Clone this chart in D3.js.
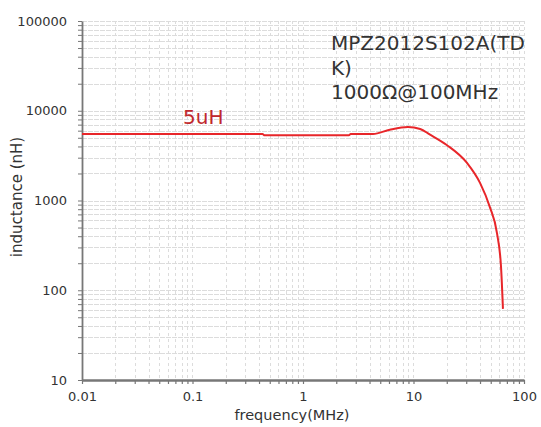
<!DOCTYPE html>
<html>
<head>
<meta charset="utf-8">
<script src="https://cdn.jsdelivr.net/npm/d3@7"></script>
<style>
  html, body { margin: 0; padding: 0; background: #fff; }
  svg { display: block; font-family: "DejaVu Sans", Verdana, sans-serif; }
</style>
</head>
<body>
<svg id="chart" width="541" height="427"></svg>
<script>
// Inductance vs frequency for MPZ2012S102A (TDK)
const freqMHz = [0.01, 0.43, 0.45, 2.6, 2.7, 4.3, 6.1, 8.9, 11.5, 14, 20, 30.5, 40, 49, 57, 62, 64.5];
const inductanceNH = [5510, 5510, 5330, 5330, 5510, 5510, 6150, 6590, 6270, 5450, 4150, 2620, 1570, 850, 430, 180, 62];

const xTickValues = [0.01, 0.1, 1, 10, 100];
const xTickLabels = ["0.01", "0.1", "1", "10", "100"];
const yTickValues = [10, 100, 1000, 10000, 100000];
const yTickLabels = ["10", "100", "1000", "10000", "100000"];

const titleLines = ["MPZ2012S102A(TD", "K)", "1000Ω@100MHz"];
const seriesLabel = "5uH";
const xTitle = "frequency(MHz)";
const yTitle = "inductance (nH)";

const svg = d3.select("#chart");
const plotLeft = 82, plotRight = 524, plotTop = 21, plotBottom = 380;

const x = d3.scaleLog().domain([0.01, 100]).range([plotLeft, plotRight]);
const y = d3.scaleLog().domain([10, 100000]).range([plotBottom, plotTop]);

// all 1..9 multiples per decade for grid and minor ticks
function logSteps(lo, hi) {
  const out = [];
  for (let e = Math.round(Math.log10(lo)); e < Math.round(Math.log10(hi)); e++) {
    for (let m = 1; m <= 9; m++) out.push(m * Math.pow(10, e));
  }
  out.push(hi);
  return out;
}
const xAll = logSteps(0.01, 100);
const yAll = logSteps(10, 100000);

// grid
const grid = svg.append("g").attr("stroke", "#dcdcdc").attr("stroke-width", 1);
grid.selectAll("line.v").data(xAll.slice(1)).join("line")
  .attr("stroke-dasharray", "3,3")
  .attr("x1", d => Math.round(x(d)) + 0.5).attr("x2", d => Math.round(x(d)) + 0.5)
  .attr("y1", plotTop).attr("y2", plotBottom);
grid.selectAll("line.h").data(yAll.slice(1)).join("line")
  .attr("stroke-dasharray", "5,1")
  .attr("x1", plotLeft).attr("x2", plotRight)
  .attr("y1", d => Math.round(y(d)) + 0.5).attr("y2", d => Math.round(y(d)) + 0.5);

// x axis: minor ticks + labels
const xAxis = d3.axisBottom(x).tickValues(xAll).tickSize(4).tickSizeOuter(0)
  .tickFormat(d => {
    const i = xTickValues.findIndex(v => Math.abs(v - d) / v < 1e-6);
    return i >= 0 ? xTickLabels[i] : "";
  });
const gx = svg.append("g").attr("transform", `translate(0,${plotBottom})`).call(xAxis);
gx.select(".domain").attr("stroke", "#777").attr("stroke-width", 2.5);
gx.selectAll(".tick line").attr("stroke", "#777").attr("stroke-width", 1.2);
gx.selectAll(".tick text").attr("font-size", 13).attr("fill", "#333").attr("dy", "1.1em")
  .attr("font-family", "DejaVu Sans, sans-serif");

// y axis
const yAxis = d3.axisLeft(y).tickValues(yAll).tickSize(4).tickSizeOuter(0)
  .tickFormat(d => {
    const i = yTickValues.findIndex(v => Math.abs(v - d) / v < 1e-6);
    return i >= 0 ? yTickLabels[i] : "";
  });
const gy = svg.append("g").attr("transform", `translate(${plotLeft},0)`).call(yAxis);
gy.select(".domain").attr("stroke", "#777").attr("stroke-width", 1.8);
gy.selectAll(".tick line").attr("stroke", "#777").attr("stroke-width", 1);
gy.selectAll(".tick text").attr("font-size", 13).attr("fill", "#333").attr("x", -15)
  .attr("font-family", "DejaVu Sans, sans-serif");

// curve
const line = d3.line()
  .x((d, i) => x(freqMHz[i]))
  .y((d, i) => y(inductanceNH[i]))
  .curve(d3.curveMonotoneX);
svg.append("path").datum(freqMHz).attr("d", line)
  .attr("fill", "none").attr("stroke", "#e8262a").attr("stroke-width", 2);

// annotations
svg.append("text").attr("x", 183).attr("y", 124).attr("font-size", 20)
  .attr("fill", "#c0282d").text(seriesLabel);
const t = svg.append("text").attr("font-size", 20).attr("fill", "#333");
titleLines.forEach((s, i) => t.append("tspan").attr("x", 331).attr("y", 50 + i * 24.5).text(s));

// axis titles
svg.append("text").attr("x", 292).attr("y", 420).attr("text-anchor", "middle")
  .attr("font-size", 14.5).attr("fill", "#333").text(xTitle);
svg.append("text").attr("transform", "translate(22,197) rotate(-90)").attr("text-anchor", "middle")
  .attr("font-size", 15).attr("fill", "#333").text(yTitle);
</script>
</body>
</html>
